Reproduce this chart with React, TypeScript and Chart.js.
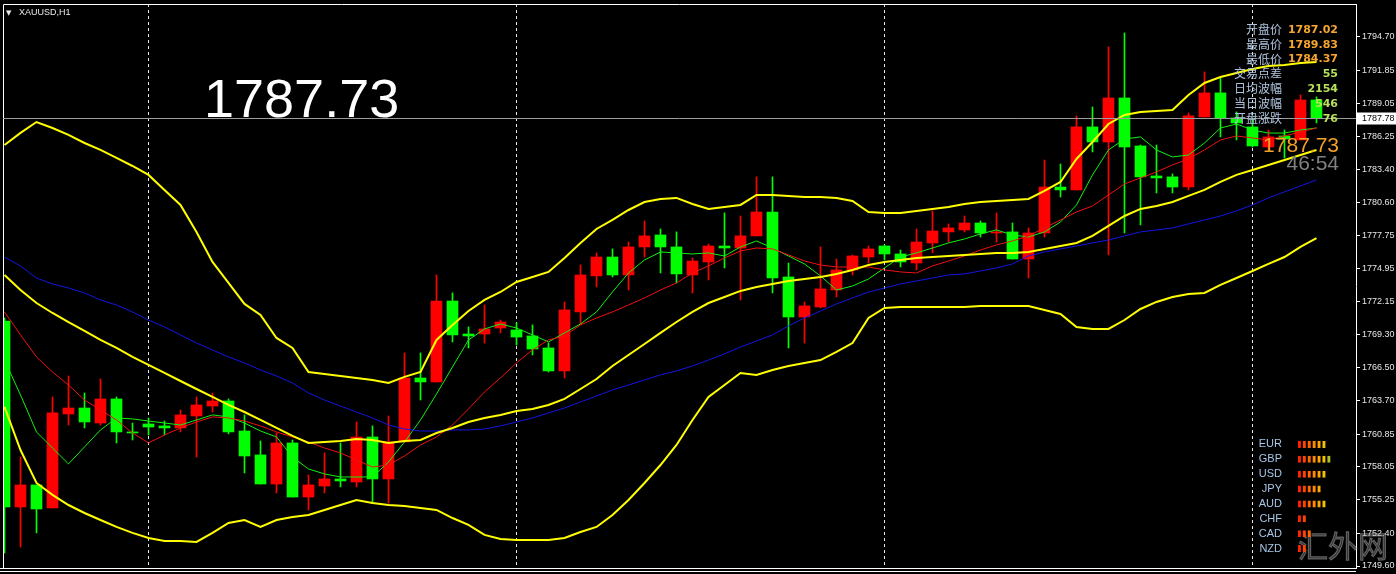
import React, { useEffect, useRef } from "react";
import { Chart, registerables } from "chart.js";

Chart.register(...registerables);

// ---- Candle data (XAUUSD H1), index 0 = oldest visible bar ----
const opens = [
  1770.49, 1754.63, 1756.51, 1754.55, 1762.56, 1763.07, 1761.79, 1763.84, 1761.03, 1761.71,
  1761.54, 1761.37, 1762.39, 1763.24, 1763.67, 1761.11, 1759.07, 1756.59, 1760.09, 1755.48,
  1756.42, 1757.02, 1756.76, 1760.6, 1757.02, 1760.17, 1765.63, 1765.29, 1772.19, 1769.38,
  1769.38, 1769.89, 1769.72, 1769.21, 1768.19, 1766.23, 1771.26, 1774.33, 1775.94, 1774.41,
  1776.8, 1777.82, 1776.8, 1774.41, 1775.52, 1776.88, 1776.71, 1777.74, 1779.78, 1774.24,
  1770.83, 1771.68, 1773.13, 1774.84, 1775.94, 1776.88, 1776.2, 1775.43, 1777.14, 1778.08,
  1778.25, 1778.84, 1777.99, 1778.08, 1775.77, 1777.99, 1781.91, 1781.66, 1787.03, 1785.75,
  1789.5, 1785.41, 1782.85, 1782.77, 1781.91, 1787.88, 1789.93, 1787.8, 1787.03, 1785.32,
  1786.26, 1785.92, 1789.33,
];
const highs = [
  1770.74, 1758.89, 1756.51, 1764.01, 1765.8, 1764.35, 1765.54, 1764.01, 1761.79, 1762.22,
  1761.96, 1762.9, 1764.01, 1764.35, 1763.84, 1762.48, 1760.26, 1760.94, 1760.34, 1757.36,
  1759.24, 1760.09, 1761.88, 1761.54, 1762.39, 1767.76, 1767.76, 1774.41, 1772.88, 1769.98,
  1771.85, 1770.57, 1770.32, 1770.15, 1768.61, 1772.11, 1775.26, 1776.29, 1776.63, 1777.22,
  1779.01, 1778.33, 1778.08, 1775.86, 1777.05, 1779.7, 1779.44, 1782.77, 1782.77, 1775.43,
  1772.11, 1776.8, 1775.77, 1776.12, 1776.88, 1776.97, 1776.54, 1778.33, 1779.87, 1778.76,
  1779.44, 1779.01, 1779.7, 1778.84, 1778.42, 1784.21, 1783.87, 1787.97, 1788.73, 1793.85,
  1795.04, 1785.49, 1785.49, 1783.02, 1788.22, 1791.72, 1791.2, 1788.31, 1787.8, 1786.77,
  1786.77, 1789.76, 1789.59,
];
const lows = [
  1750.71, 1751.22, 1752.42, 1754.55, 1761.62, 1761.37, 1761.62, 1760.09, 1760.34, 1760.77,
  1760.77, 1761.03, 1758.89, 1762.73, 1760.86, 1757.53, 1756.59, 1755.83, 1755.48, 1754.38,
  1755.83, 1756.34, 1756.34, 1754.97, 1754.97, 1760.17, 1763.75, 1765.29, 1768.7, 1768.19,
  1768.61, 1769.47, 1768.44, 1767.59, 1766.14, 1765.63, 1770.15, 1773.39, 1774.24, 1773.13,
  1775.94, 1774.58, 1773.73, 1772.88, 1773.98, 1775.01, 1772.28, 1777.74, 1772.88, 1768.19,
  1768.61, 1771.6, 1772.53, 1774.41, 1775.43, 1775.69, 1775.09, 1774.84, 1776.29, 1777.22,
  1778.08, 1777.65, 1777.22, 1775.77, 1774.15, 1777.65, 1781.06, 1781.66, 1784.9, 1776.12,
  1777.99, 1778.67, 1781.4, 1781.4, 1781.66, 1787.88, 1786.18, 1785.92, 1785.32, 1785.07,
  1784.38, 1785.92, 1787.37,
];
const closes = [
  1754.63, 1756.51, 1754.46, 1762.65, 1763.07, 1761.88, 1763.84, 1761.03, 1760.94, 1761.45,
  1761.37, 1762.48, 1763.33, 1763.67, 1761.03, 1758.98, 1756.59, 1760.09, 1755.48, 1756.51,
  1757.02, 1756.85, 1760.6, 1757.02, 1760.17, 1765.63, 1765.29, 1772.19, 1769.3, 1769.21,
  1769.81, 1770.4, 1769.12, 1768.1, 1766.23, 1771.43, 1774.41, 1775.94, 1774.41, 1776.8,
  1777.74, 1776.8, 1774.5, 1775.6, 1776.88, 1776.71, 1777.74, 1779.78, 1774.15, 1770.83,
  1771.77, 1773.22, 1774.84, 1776.03, 1776.63, 1776.2, 1775.52, 1777.22, 1778.16, 1778.42,
  1778.84, 1777.99, 1778.08, 1775.77, 1777.99, 1781.91, 1781.66, 1787.03, 1785.75, 1789.5,
  1785.32, 1782.77, 1782.68, 1781.91, 1787.97, 1789.93, 1787.8, 1787.37, 1785.41, 1786.18,
  1786.0, 1789.33, 1787.78,
];

// ---- Indicator lines ----
const bbUpper = [
  1785.49, 1786.52, 1787.45, 1786.94, 1786.35, 1785.66, 1785.07, 1784.39, 1783.7, 1782.94,
  1781.66, 1780.38, 1778.08, 1775.52, 1773.73, 1771.94, 1771.0, 1769.04, 1768.19, 1766.14,
  1765.97, 1765.8, 1765.63, 1765.46, 1765.2, 1765.72, 1766.14, 1768.87, 1770.15, 1771.34,
  1772.28, 1772.96, 1773.81, 1774.24, 1774.67, 1775.86, 1777.14, 1778.33, 1779.1, 1779.95,
  1780.63, 1780.89, 1780.98, 1780.46, 1780.04, 1780.21, 1780.38, 1781.23, 1781.23, 1781.15,
  1781.06, 1781.06, 1780.98, 1780.72, 1779.78, 1779.7, 1779.7, 1779.87, 1780.04, 1780.21,
  1780.46, 1780.63, 1780.72, 1780.8, 1780.89, 1781.57, 1782.34, 1784.3, 1785.75, 1787.28,
  1788.05, 1788.31, 1788.39, 1788.48, 1789.76, 1790.78, 1791.29, 1791.63, 1791.97, 1792.23,
  1792.31, 1792.48, 1792.57,
];
const bbMiddle = [
  1774.41, 1773.13, 1772.02, 1771.17, 1770.4, 1769.64, 1768.87, 1768.19, 1767.42, 1766.74,
  1766.06, 1765.37, 1764.69, 1764.01, 1763.33, 1762.73, 1762.05, 1761.37, 1760.69, 1760.09,
  1760.17, 1760.26, 1760.43, 1760.34, 1760.09, 1760.26, 1760.34, 1760.94, 1761.37, 1761.88,
  1762.22, 1762.48, 1762.82, 1762.99, 1763.33, 1763.84, 1764.69, 1765.54, 1766.65, 1767.59,
  1768.53, 1769.47, 1770.4, 1771.26, 1772.02, 1772.53, 1773.05, 1773.39, 1773.64, 1773.9,
  1774.07, 1774.24, 1774.5, 1774.84, 1775.26, 1775.52, 1775.69, 1775.86, 1775.94, 1776.03,
  1776.12, 1776.2, 1776.29, 1776.29, 1776.37, 1776.63, 1776.88, 1777.14, 1777.74, 1778.59,
  1779.44, 1780.04, 1780.29, 1780.63, 1781.15, 1781.66, 1782.34, 1782.94, 1783.36, 1783.79,
  1784.21, 1784.64, 1785.07,
];
const bbLower = [
  1763.16, 1759.49, 1756.68, 1755.66, 1754.8, 1754.12, 1753.52, 1752.93, 1752.42, 1751.99,
  1751.73, 1751.73, 1751.65, 1752.42, 1753.27, 1753.52, 1752.93, 1753.52, 1753.78, 1753.95,
  1754.38, 1754.8, 1755.23, 1754.97, 1754.8, 1754.72, 1754.55, 1754.38, 1753.69, 1753.1,
  1752.25, 1751.9, 1751.82, 1751.82, 1751.82, 1751.99, 1752.5, 1752.93, 1753.95, 1755.23,
  1756.68, 1758.21, 1759.92, 1762.05, 1764.01, 1765.03, 1766.06, 1765.89, 1766.31, 1766.65,
  1766.91, 1767.16, 1767.85, 1768.61, 1770.74, 1771.6, 1771.68, 1771.68, 1771.68, 1771.68,
  1771.68, 1771.77, 1771.77, 1771.77, 1771.77, 1771.43, 1771.09, 1769.98, 1769.81, 1769.81,
  1770.57, 1771.51, 1772.11, 1772.53, 1772.79, 1772.88, 1773.56, 1774.15, 1774.75, 1775.35,
  1775.94, 1776.8, 1777.56,
];
const maBlue = [
  1775.94, 1775.18, 1774.15, 1773.64, 1773.3, 1772.88, 1772.28, 1771.85, 1771.26, 1770.57,
  1769.98, 1769.3, 1768.61, 1768.02, 1767.42, 1766.91, 1766.31, 1765.8, 1765.2, 1764.35,
  1763.75, 1763.24, 1762.73, 1762.22, 1761.62, 1761.28, 1761.11, 1761.11, 1761.2, 1761.2,
  1761.28, 1761.54, 1761.88, 1762.22, 1762.65, 1763.07, 1763.58, 1764.09, 1764.61, 1765.03,
  1765.46, 1765.89, 1766.23, 1766.65, 1767.16, 1767.68, 1768.27, 1768.78, 1769.3, 1770.06,
  1770.74, 1771.34, 1771.94, 1772.45, 1772.96, 1773.3, 1773.64, 1773.9, 1774.15, 1774.41,
  1774.5, 1774.75, 1775.01, 1775.35, 1776.03, 1776.37, 1776.63, 1776.88, 1777.14, 1777.39,
  1777.74, 1778.08, 1778.25, 1778.42, 1778.76, 1779.1, 1779.44, 1779.87, 1780.38, 1780.98,
  1781.49, 1782.0, 1782.51,
];
const maRed = [
  1771.26, 1769.3, 1767.42, 1766.14, 1765.03, 1763.75, 1762.9, 1762.05, 1760.94, 1760.09,
  1760.77, 1761.37, 1761.88, 1762.31, 1762.22, 1761.96, 1761.54, 1761.03, 1760.6, 1760.17,
  1759.66, 1759.24, 1758.64, 1758.04, 1758.21, 1758.98, 1759.92, 1760.6, 1761.62, 1762.99,
  1764.44, 1765.63, 1766.91, 1768.02, 1768.87, 1769.21, 1770.15, 1770.74, 1771.26, 1771.85,
  1772.45, 1773.13, 1773.73, 1774.58, 1775.18, 1775.86, 1776.46, 1776.71, 1776.63, 1776.12,
  1775.6, 1775.26, 1775.09, 1775.09, 1775.09, 1774.84, 1774.67, 1774.58, 1775.18, 1775.6,
  1776.03, 1776.54, 1776.97, 1777.31, 1777.74, 1778.42, 1779.1, 1779.78, 1780.29, 1781.23,
  1782.17, 1782.68, 1783.19, 1783.79, 1784.3, 1785.07, 1785.92, 1786.26, 1786.09, 1785.92,
  1786.26, 1786.6, 1786.94,
];
const maGreen = [
  1767.16, 1764.18, 1761.03, 1759.66, 1758.3, 1759.75, 1761.2, 1762.22, 1762.14, 1761.96,
  1761.79, 1761.62, 1762.05, 1762.48, 1762.31, 1761.79, 1761.11, 1760.6, 1758.89, 1757.87,
  1757.45, 1757.19, 1757.19, 1757.19, 1758.47, 1760.17, 1762.05, 1764.26, 1766.57, 1768.87,
  1769.81, 1770.23, 1769.89, 1769.3, 1768.7, 1769.47, 1770.23, 1771.26, 1772.96, 1774.58,
  1775.69, 1776.37, 1776.29, 1776.2, 1776.29, 1776.03, 1776.8, 1777.31, 1776.71, 1776.03,
  1775.35, 1774.33, 1773.13, 1773.47, 1774.07, 1775.01, 1775.94, 1776.29, 1776.71, 1777.14,
  1777.48, 1777.91, 1778.25, 1777.82, 1777.65, 1778.08, 1778.93, 1780.38, 1782.94, 1785.07,
  1786.0, 1786.18, 1785.07, 1784.47, 1784.64, 1785.66, 1786.94, 1787.28, 1786.77, 1786.51,
  1786.51, 1786.77, 1786.94,
];

// ---- Axis / annotation values ----
const priceTicks = [
  1794.7, 1791.85, 1789.05, 1786.25, 1783.4, 1780.6, 1777.75, 1774.95, 1772.15, 1769.3,
  1766.5, 1763.7, 1760.85, 1758.05, 1755.25, 1752.4, 1749.6,
];
const separatorBars = [9, 32, 55, 78];
const priceMin = 1749.43;
const priceMax = 1797.51;
const barMin = -0.094;
const barMax = 84.47;
const currentPrice = 1787.78;
const symbolTitle = "XAUUSD,H1";
const bigPriceText = "1787.73";
const infoLabels = ["开盘价", "最高价", "最低价", "交易点差", "日均波幅", "当日波幅", "开盘涨跌"];
const infoValues = ["1787.02", "1789.83", "1784.37", "55", "2154", "546", "76"];
const timerText = "46:54";
const watermark = "汇外网";
const currencies = ["EUR", "GBP", "USD", "JPY", "AUD", "CHF", "CAD", "NZD"];
const strengths = [6, 7, 6, 5, 6, 2, 3, 2];
const strengthColors = ["#FF2200", "#FF4400", "#FF6600", "#FF8A00", "#FFA600", "#F2C200", "#AFC22A"];

const UP = "#FF0000";
const DOWN = "#00FF00";

const decorPlugin = {
  id: "decor",
  beforeDraw(chart: any) {
    const { ctx, width, height } = chart;
    ctx.save();
    ctx.fillStyle = "#000";
    ctx.fillRect(0, 0, width, height);
    ctx.restore();
  },
  afterDraw(chart: any) {
    const { ctx, chartArea: ca, scales } = chart;
    const ys = scales.y;
    ctx.save();
    // frame
    ctx.strokeStyle = "#ffffff";
    ctx.lineWidth = 1;
    ctx.beginPath();
    ctx.moveTo(ca.left + 0.5, ca.bottom);
    ctx.lineTo(ca.left + 0.5, ca.top + 0.5);
    ctx.lineTo(ca.right, ca.top + 0.5);
    ctx.moveTo(0, ca.bottom + 0.5);
    ctx.lineTo(ca.right, ca.bottom + 0.5);
    ctx.moveTo(0, ca.bottom + 3.5);
    ctx.lineTo(ca.right, ca.bottom + 3.5);
    ctx.stroke();

    // bid line
    const py = Math.round(ys.getPixelForValue(currentPrice)) + 0.5;
    ctx.strokeStyle = "#9c9c9c";
    ctx.beginPath();
    ctx.moveTo(ca.left, py);
    ctx.lineTo(ca.right, py);
    ctx.stroke();
    ctx.fillStyle = "#ffffff";
    ctx.fillRect(ca.right + 1, py - 6, 40, 12);
    ctx.fillStyle = "#000000";
    ctx.font = "9px 'Liberation Sans'";
    ctx.textBaseline = "middle";
    ctx.textAlign = "left";
    ctx.fillText(currentPrice.toFixed(2), ca.right + 6, py + 0.5);

    // title
    ctx.fillStyle = "#e8e8e8";
    ctx.font = "7px 'DejaVu Sans'";
    ctx.fillText("▼", 6, 13);
    ctx.font = "9px 'Liberation Sans'";
    ctx.fillText(symbolTitle, 19, 13);

    // big price
    ctx.fillStyle = "#ffffff";
    ctx.font = "54px 'Liberation Sans'";
    ctx.textBaseline = "alphabetic";
    ctx.fillText(bigPriceText, 204, 117);

    // info panel
    ctx.textBaseline = "middle";
    infoLabels.forEach((lab, i) => {
      const ty = 29.5 + i * 14.8;
      ctx.textAlign = "right";
      ctx.fillStyle = "#AFC3DE";
      ctx.font = "12px 'Noto Sans CJK SC'";
      ctx.fillText(lab, 1282, ty);
      ctx.fillStyle = i < 3 ? "#F7A530" : "#B8E05A";
      ctx.font = "bold 11px 'DejaVu Sans'";
      ctx.fillText(infoValues[i], 1338, ty + 0.5);
    });

    // running price + timer
    ctx.textAlign = "right";
    ctx.font = "21px 'Liberation Sans'";
    ctx.fillStyle = "#F2A02A";
    ctx.fillText(bigPriceText, 1339, 146);
    ctx.fillStyle = "#808080";
    ctx.fillText(timerText, 1339, 164);

    // watermark
    ctx.textAlign = "left";
    ctx.font = "30px 'Noto Sans CJK SC'";
    ctx.fillStyle = "rgba(150,150,150,0.35)";
    ctx.strokeStyle = "rgba(190,190,190,0.45)";
    ctx.lineWidth = 1;
    ctx.fillText(watermark, 1298, 546);
    ctx.strokeText(watermark, 1298, 546);
    ctx.restore();
  },
};

function MainChart() {
  const ref = useRef<HTMLCanvasElement>(null);
  useEffect(() => {
    const idx = opens.map((_, i) => i);
    const up = idx.filter((i) => closes[i] > opens[i]);
    const down = idx.filter((i) => closes[i] <= opens[i]);
    const line = (arr: number[], color: string, width: number) => ({
      type: "line" as const,
      data: arr.map((v, i) => ({ x: i, y: v })),
      borderColor: color,
      borderWidth: width,
      pointRadius: 0,
      tension: 0,
      fill: false,
      order: 1,
    });
    const bars = (ids: number[], a: number[], b: number[], color: string, thick: number, order: number) => ({
      type: "bar" as const,
      data: ids.map((i) => ({ x: i, y: [a[i], b[i]] })),
      backgroundColor: color,
      borderWidth: 0,
      barThickness: thick,
      grouped: false,
      minBarLength: 1,
      order,
    });
    const chart = new Chart(ref.current as HTMLCanvasElement, {
      type: "bar",
      data: {
        datasets: [
          line(bbUpper, "#FFFF00", 2),
          line(bbMiddle, "#FFFF00", 2),
          line(bbLower, "#FFFF00", 2),
          line(maBlue, "#1414E6", 1),
          line(maRed, "#F01010", 1),
          line(maGreen, "#10F010", 1),
          bars(up, opens, closes, UP, 11, 5),
          bars(down, opens, closes, DOWN, 11, 5),
          bars(up, lows, highs, UP, 1, 6),
          bars(down, lows, highs, DOWN, 1, 6),
        ] as any,
      },
      options: {
        responsive: false,
        maintainAspectRatio: false,
        animation: false,
        events: [],
        layout: { padding: { left: 3, top: 4, right: 0, bottom: 6 } },
        plugins: { legend: { display: false }, tooltip: { enabled: false } },
        scales: {
          x: {
            type: "linear",
            min: barMin,
            max: barMax,
            offset: false,
            bounds: "data",
            afterBuildTicks: (s: any) => {
              s.ticks = separatorBars.map((v) => ({ value: v }));
            },
            afterFit: (s: any) => {
              s.height = 0;
              s.paddingLeft = 0;
              s.paddingRight = 0;
            },
            ticks: { display: false },
            grid: { offset: false, color: "#e8e8e8", lineWidth: 1, drawTicks: false },
            border: { display: false, dash: [3, 3] },
          },
          y: {
            type: "linear",
            position: "right",
            min: priceMin,
            max: priceMax,
            bounds: "data",
            afterBuildTicks: (s: any) => {
              s.ticks = priceTicks.map((v) => ({ value: v }));
            },
            afterFit: (s: any) => {
              s.width = 40;
              s.paddingTop = 0;
              s.paddingBottom = 0;
            },
            ticks: {
              color: "#e6e6e6",
              font: { family: "'Liberation Sans'", size: 9 },
              padding: 2,
              autoSkip: false,
              callback: (v: any) => Number(v).toFixed(2),
            },
            grid: { drawOnChartArea: false, drawTicks: true, tickLength: 4, tickColor: "#ffffff", color: "#ffffff" },
            border: { display: true, color: "#ffffff", width: 1 },
          },
        },
      } as any,
      plugins: [decorPlugin],
    });
    return () => chart.destroy();
  }, []);
  return <canvas ref={ref} width={1396} height={574} style={{ display: "block", position: "absolute", left: 0, top: 0 }} />;
}

function StrengthChart() {
  const ref = useRef<HTMLCanvasElement>(null);
  useEffect(() => {
    const datasets = strengthColors.map((c, k) => ({
      data: strengths.map((s) => (s > k ? 1 : 0)),
      backgroundColor: c,
      borderColor: "#000000",
      borderWidth: { left: 1, right: 1, top: 0, bottom: 0 },
      borderSkipped: false,
      inflateAmount: 0,
      barThickness: 7,
    }));
    const chart = new Chart(ref.current as HTMLCanvasElement, {
      type: "bar",
      data: { labels: currencies, datasets: datasets as any },
      options: {
        indexAxis: "y",
        responsive: false,
        maintainAspectRatio: false,
        animation: false,
        events: [],
        layout: { padding: 0 },
        plugins: { legend: { display: false }, tooltip: { enabled: false } },
        scales: {
          x: { type: "linear", min: 0, max: 10, display: false, stacked: true },
          y: {
            type: "category",
            stacked: true,
            position: "left",
            afterFit: (s: any) => {
              s.width = 57;
              s.paddingTop = 0;
              s.paddingBottom = 0;
            },
            grid: { display: false, drawTicks: false },
            border: { display: false },
            ticks: {
              color: "#A6C6E6",
              font: { family: "'Liberation Sans'", size: 11 },
              padding: 15,
              autoSkip: false,
            },
          },
        },
      } as any,
    });
    return () => chart.destroy();
  }, []);
  return (
    <canvas
      ref={ref}
      width={106}
      height={119}
      style={{ display: "block", position: "absolute", left: 1240, top: 437 }}
    />
  );
}

export default function App() {
  useEffect(() => {
    document.body.style.margin = "0";
    document.body.style.background = "#000";
    document.body.style.overflow = "hidden";
  }, []);
  return (
    <div style={{ position: "relative", width: 1396, height: 574, background: "#000", overflow: "hidden" }}>
      <MainChart />
      <StrengthChart />
    </div>
  );
}
